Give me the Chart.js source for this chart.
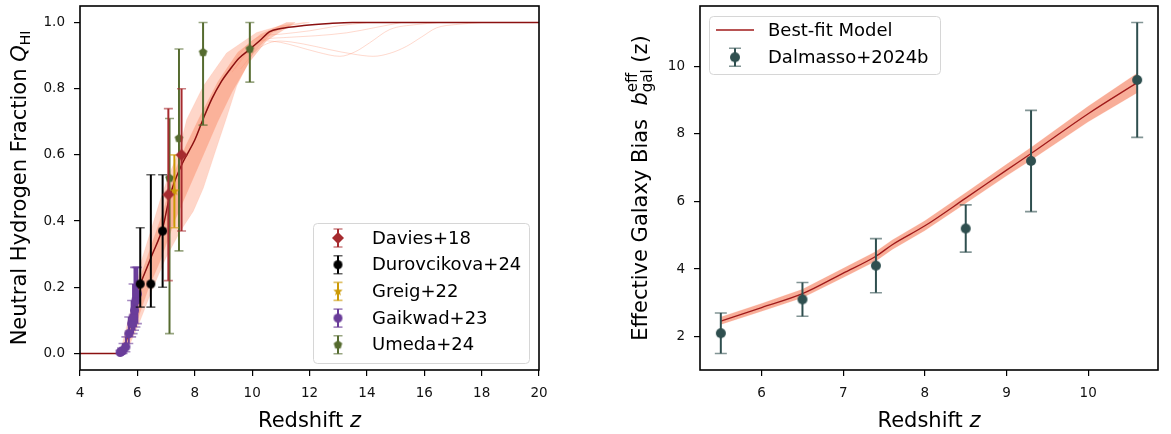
<!DOCTYPE html>
<html>
<head>
<meta charset="utf-8">
<script src="https://cdn.jsdelivr.net/npm/chart.js@4.4.1/dist/chart.umd.min.js"></script>
<style>
  body { margin: 0; background: #fff; }
  canvas { position: absolute; top: 0; }
</style>
</head>
<body>
<canvas id="qhiChart" width="560" height="434" style="left:0;width:560px;height:434px"></canvas>
<canvas id="biasChart" width="571" height="434" style="left:600px;width:571px;height:434px"></canvas>
<script>
// left panel: neutral fraction vs redshift
const qhiTicksX = [4, 6, 8, 10, 12, 14, 16, 18, 20];
const qhiTicksY = [0, 0.2, 0.4, 0.6, 0.8, 1.0];

const bestZ = [4, 5.3, 5.45, 5.6, 5.7, 5.8, 5.9, 6.0, 6.1, 6.5, 6.9, 7.1, 7.3, 7.6, 8.0, 8.3, 8.6, 8.9, 9.2, 9.55, 9.9, 10.3, 10.6, 11.0, 11.8, 12.7, 13.5, 20];
const bestQ = [0, 0, 0.01, 0.035, 0.065, 0.11, 0.155, 0.19, 0.21, 0.295, 0.385, 0.465, 0.52, 0.58, 0.645, 0.71, 0.77, 0.818, 0.855, 0.893, 0.918, 0.948, 0.972, 0.982, 0.991, 0.997, 1.0, 1.0];

// posterior envelope (early edge / late edge)
const bandEarlyZ = [5.25, 5.45, 5.62, 5.8, 5.97, 6.14, 6.5, 6.8, 7.1, 7.43, 7.72, 8.3, 9.11, 10.16, 10.97, 11.8];
const bandEarlyQ = [0, 0.02, 0.08, 0.14, 0.2, 0.28, 0.38, 0.465, 0.54, 0.606, 0.707, 0.808, 0.908, 0.97, 0.99, 1.0];
const bandLateZ = [5.5, 5.75, 6.1, 6.55, 7.0, 7.5, 7.95, 8.3, 8.7, 9.1, 9.46, 10.04, 10.7, 11.3, 12.0];
const bandLateQ = [0, 0.03, 0.1, 0.2, 0.29, 0.37, 0.43, 0.5, 0.606, 0.71, 0.808, 0.908, 0.97, 0.99, 1.0];

// denser core of the posterior draws
const coreEarlyZ = [5.35, 5.6, 5.85, 6.1, 6.5, 6.9, 7.3, 7.7, 8.2, 8.8, 9.5, 10.3, 11.2];
const coreEarlyQ = [0, 0.04, 0.13, 0.23, 0.33, 0.43, 0.55, 0.63, 0.72, 0.82, 0.91, 0.965, 1.0];
const coreLateZ = [5.45, 5.7, 6.0, 6.4, 6.8, 7.3, 7.8, 8.3, 8.8, 9.3, 9.9, 10.5, 11.5];
const coreLateQ = [0, 0.03, 0.1, 0.2, 0.28, 0.4, 0.5, 0.6, 0.7, 0.79, 0.88, 0.945, 1.0];

// a few visible posterior draws that wander below 1 at high z
const dipAZ = [9.4, 9.9, 10.39, 11.0, 11.55, 12.3, 13.06, 13.6, 14.1, 14.8, 15.73, 16.5];
const dipAQ = [0.86, 0.915, 0.945, 0.94, 0.928, 0.91, 0.898, 0.912, 0.939, 0.979, 0.994, 1.0];
const dipBZ = [9.6, 10.2, 10.97, 11.8, 12.71, 13.5, 14.22, 14.8, 15.38, 15.9, 16.43, 17.1, 18];
const dipBQ = [0.86, 0.92, 0.944, 0.935, 0.918, 0.905, 0.898, 0.907, 0.928, 0.956, 0.984, 0.994, 1.0];
const shallowAZ = [9.3, 9.8, 10.3, 11.2, 12.2, 13.3, 14.3, 15.2];
const shallowAQ = [0.85, 0.91, 0.945, 0.955, 0.96, 0.969, 0.985, 1.0];
const shallowBZ = [9.2, 9.7, 10.2, 11.0, 12.0, 13.0, 14.0];
const shallowBQ = [0.86, 0.92, 0.955, 0.965, 0.975, 0.99, 1.0];

const daviesZ = [7.08, 7.54];
const daviesQ = [0.48, 0.60];
const daviesUp = [0.26, 0.20];
const daviesDn = [0.26, 0.23];

const durovZ = [6.10, 6.47, 6.88];
const durovQ = [0.21, 0.21, 0.37];
const durovUp = [0.17, 0.33, 0.17];
const durovDn = [0.07, 0.07, 0.17];

const greigZ = [7.29];
const greigQ = [0.49];
const greigUp = [0.11];
const greigDn = [0.11];

const gaikZ = [5.4, 5.45, 5.5, 5.6, 5.7, 5.8, 5.85, 5.9, 5.95, 6.0];
const gaikQ = [0.003, 0.006, 0.01, 0.02, 0.06, 0.09, 0.11, 0.13, 0.16, 0.18];
const gaikUp = [0.006, 0.01, 0.02, 0.03, 0.05, 0.07, 0.1, 0.13, 0.1, 0.08];
const gaikDn = [0.003, 0.006, 0.01, 0.015, 0.03, 0.04, 0.05, 0.06, 0.08, 0.09];

const umedaZ = [7.12, 7.45, 8.29, 9.92];
const umedaQ = [0.53, 0.65, 0.91, 0.92];
const umedaUp = [0.18, 0.27, 0.09, 0.08];
const umedaDn = [0.47, 0.34, 0.22, 0.10];

// right panel: effective galaxy bias
const biasTicksX = [6, 7, 8, 9, 10];
const biasTicksY = [2, 4, 6, 8, 10];

const fitZ = [5.5, 6.0, 6.5, 7.0, 7.4, 7.6, 8.0, 8.5, 9.0, 9.3, 10.0, 10.6];
const fitB = [2.46, 2.86, 3.27, 3.88, 4.38, 4.72, 5.28, 6.1, 6.93, 7.42, 8.6, 9.52];
const fitLo = [2.36, 2.75, 3.15, 3.75, 4.24, 4.58, 5.14, 5.95, 6.76, 7.23, 8.36, 9.22];
const fitHi = [2.58, 2.98, 3.40, 4.02, 4.52, 4.86, 5.43, 6.26, 7.10, 7.60, 8.82, 9.80];

const dalZ = [5.5, 6.5, 7.4, 8.5, 9.3, 10.6];
const dalB = [2.1, 3.1, 4.1, 5.2, 7.2, 9.6];
const dalErr = [0.6, 0.5, 0.8, 0.7, 1.5, 1.7];

const FONT = "'DejaVu Sans', sans-serif";

function pts(xs, ys) {
  return xs.map((x, i) => ({ x: x, y: ys[i] }));
}

function makeMarker(shape, r, color) {
  const s = Math.ceil(r * 2 + 2);
  const c = document.createElement('canvas');
  c.width = s; c.height = s;
  const g = c.getContext('2d');
  g.fillStyle = color;
  g.translate(s / 2, s / 2);
  g.beginPath();
  if (shape === 'circle') {
    g.arc(0, 0, r, 0, Math.PI * 2);
  } else if (shape === 'diamond') {
    g.moveTo(0, -r); g.lineTo(r, 0); g.lineTo(0, r); g.lineTo(-r, 0);
  } else if (shape === 'pentagon') {
    for (let k = 0; k < 5; k++) {
      const a = -Math.PI / 2 + k * 2 * Math.PI / 5;
      g.lineTo(r * Math.cos(a), r * Math.sin(a));
    }
  } else if (shape === 'star') {
    for (let k = 0; k < 10; k++) {
      const a = -Math.PI / 2 + k * Math.PI / 5;
      const rr = k % 2 ? r * 0.42 : r;
      g.lineTo(rr * Math.cos(a), rr * Math.sin(a));
    }
  }
  g.closePath();
  g.fill();
  return c;
}

function drawErrBar(ctx, px, top, bot, color, lw, cap) {
  ctx.strokeStyle = color;
  ctx.lineWidth = lw;
  ctx.beginPath(); ctx.moveTo(px, top); ctx.lineTo(px, bot); ctx.stroke();
  ctx.globalAlpha = 0.6;
  ctx.lineWidth = 1.6;
  ctx.beginPath();
  ctx.moveTo(px - cap / 2, top); ctx.lineTo(px + cap / 2, top);
  ctx.moveTo(px - cap / 2, bot); ctx.lineTo(px + cap / 2, bot);
  ctx.stroke();
  ctx.globalAlpha = 1;
}

// error bars drawn just before each scatter dataset so markers sit on top
const errorBars = {
  id: 'errorBars',
  beforeDatasetDraw(chart, args) {
    const ds = chart.data.datasets[args.index];
    if (!ds.errUp) return;
    const ctx = chart.ctx, xs = chart.scales.x, ys = chart.scales.y;
    ctx.save();
    ds.data.forEach((p, i) => {
      const px = xs.getPixelForValue(p.x);
      drawErrBar(ctx, px, ys.getPixelForValue(p.y + ds.errUp[i]), ys.getPixelForValue(p.y - ds.errDn[i]),
        ds.errColor, ds.errWidth, ds.capSize);
    });
    ctx.restore();
  }
};

function richText(ctx, cx, cy, angle, runs) {
  ctx.save();
  ctx.translate(cx, cy);
  ctx.rotate(angle);
  ctx.textBaseline = 'alphabetic';
  ctx.fillStyle = '#000';
  const pos = [];
  let x = 0, prevStart = 0, prevW = 0;
  runs.forEach(r => {
    ctx.font = r.font;
    const w = ctx.measureText(r.text).width;
    let start;
    if (r.back) {
      start = prevStart;
      x = Math.max(prevStart + prevW, start + w);
      prevW = Math.max(prevW, w);
    } else {
      start = x;
      x = start + w;
      prevW = w;
    }
    prevStart = start;
    pos.push(start);
  });
  runs.forEach((r, i) => {
    ctx.font = r.font;
    ctx.fillText(r.text, pos[i] - x / 2, 7 + (r.dy || 0));
  });
  ctx.restore();
}

function framePlugin(titleX, titleY, yTitleX) {
  return {
    id: 'frameTitles',
    afterDraw(chart) {
      const ctx = chart.ctx, a = chart.chartArea;
      ctx.save();
      ctx.strokeStyle = '#000';
      ctx.lineWidth = 1.6;
      ctx.strokeRect(a.left, a.top, a.right - a.left, a.bottom - a.top);
      ctx.restore();
      richText(ctx, (a.left + a.right) / 2, 420, 0, titleX);
      richText(ctx, yTitleX, (a.top + a.bottom) / 2, -Math.PI / 2, titleY);
    }
  };
}

function legendPlugin(box, items) {
  return {
    id: 'boxLegend',
    afterDraw(chart) {
      const ctx = chart.ctx;
      ctx.save();
      ctx.fillStyle = 'rgba(255,255,255,0.8)';
      ctx.strokeStyle = '#d6d6d6';
      ctx.lineWidth = 1;
      ctx.beginPath();
      ctx.roundRect(box.x + 0.5, box.y + 0.5, box.w, box.h, 4);
      ctx.fill(); ctx.stroke();
      ctx.font = '18px ' + FONT;
      ctx.textBaseline = 'middle';
      items.forEach((it, i) => {
        const y = box.y + box.first + i * box.step;
        const mx = box.x + box.mx;
        if (it.line) {
          ctx.strokeStyle = it.color; ctx.lineWidth = 1.5;
          ctx.beginPath(); ctx.moveTo(mx - 19, y); ctx.lineTo(mx + 19, y); ctx.stroke();
        } else {
          drawErrBar(ctx, mx, y - 9, y + 9, it.color, 2, it.cap);
          ctx.drawImage(it.marker, mx - it.marker.width / 2, y - it.marker.height / 2);
        }
        ctx.fillStyle = '#000';
        ctx.fillText(it.label, box.x + box.tx, y + 1);
      });
      ctx.restore();
    }
  };
}

function baseAxis(min, max, ticks, fmt) {
  return {
    type: 'linear',
    min: min, max: max,
    afterBuildTicks: s => { s.ticks = ticks.map(v => ({ value: v })); },
    ticks: { font: { family: FONT, size: 13.5 }, color: '#111', padding: 9, callback: fmt, maxRotation: 0, autoSkip: false },
    grid: { drawOnChartArea: false, drawTicks: true, tickLength: 6, color: '#000', lineWidth: 1.2 },
    border: { display: false },
    title: { display: false }
  };
}

function xAxis(min, max, ticks, fmt) {
  const ax = baseAxis(min, max, ticks, fmt);
  ax.afterFit = s => { s.height = 64; s.paddingLeft = 0; s.paddingRight = 0; };
  return ax;
}

function yAxis(min, max, ticks, fmt, w) {
  const ax = baseAxis(min, max, ticks, fmt);
  ax.afterFit = s => { s.width = w; s.paddingTop = 0; s.paddingBottom = 0; };
  return ax;
}

const markDavies = makeMarker('diamond', 6, '#a62b2f');
const markDurov = makeMarker('circle', 4.5, '#000000');
const markGreig = makeMarker('star', 5, '#cc9a06');
const markGaik = makeMarker('circle', 4.5, '#6a3d9a');
const markUmeda = makeMarker('pentagon', 4.5, '#556b2f');
const markDal = makeMarker('circle', 5, '#2f4f4f');

function scatterSet(label, xs, ys, up, dn, color, marker, cap) {
  return {
    label: label, data: pts(xs, ys), pointStyle: marker, pointRadius: 5,
    errUp: up, errDn: dn, errColor: color, errWidth: 2, capSize: cap, order: 0
  };
}

function curveSet(xs, ys, color, width, order) {
  return {
    data: pts(xs, ys), showLine: true, pointRadius: 0, borderColor: color, borderWidth: width,
    cubicInterpolationMode: 'monotone', fill: false, order: order
  };
}

function bandSet(loZ, loQ, hiZ, hiQ, color, order) {
  const poly = pts(loZ, loQ).concat(pts(hiZ.slice().reverse(), hiQ.slice().reverse()));
  return { data: poly, showLine: true, pointRadius: 0, borderColor: 'rgba(252,146,114,0.15)', borderWidth: 1,
    backgroundColor: color, fill: 'shape', tension: 0, order: order };
}

new Chart(document.getElementById('qhiChart'), {
  type: 'scatter',
  data: {
    datasets: [
      scatterSet('Davies+18', daviesZ, daviesQ, daviesUp, daviesDn, '#a62b2f', markDavies, 9),
      scatterSet('Durovcikova+24', durovZ, durovQ, durovUp, durovDn, '#000000', markDurov, 9),
      scatterSet('Greig+22', greigZ, greigQ, greigUp, greigDn, '#cc9a06', markGreig, 9),
      scatterSet('Gaikwad+23', gaikZ, gaikQ, gaikUp, gaikDn, '#6a3d9a', markGaik, 9),
      scatterSet('Umeda+24', umedaZ, umedaQ, umedaUp, umedaDn, '#556b2f', markUmeda, 9),
      curveSet(bestZ, bestQ, '#8b1010', 1.5, 1),
      curveSet(dipAZ, dipAQ, 'rgba(252,146,114,0.35)', 1, 2),
      curveSet(dipBZ, dipBQ, 'rgba(252,146,114,0.35)', 1, 2),
      curveSet(shallowAZ, shallowAQ, 'rgba(252,146,114,0.35)', 1, 2),
      curveSet(shallowBZ, shallowBQ, 'rgba(252,146,114,0.35)', 1, 2),
      bandSet(coreEarlyZ, coreEarlyQ, coreLateZ, coreLateQ, 'rgba(248,120,80,0.38)', 3),
      bandSet(bandEarlyZ.concat([12.0]), bandEarlyQ.concat([1.0]), bandLateZ, bandLateQ, 'rgba(252,146,114,0.38)', 4)
    ]
  },
  options: {
    responsive: false, animation: false, events: [],
    layout: { padding: { top: 6, right: 21, left: 0, bottom: 0 } },
    plugins: { legend: { display: false }, tooltip: { enabled: false } },
    scales: {
      x: xAxis(4, 20, qhiTicksX, v => String(v)),
      y: yAxis(-0.05, 1.05, qhiTicksY, v => v.toFixed(1), 80)
    }
  },
  plugins: [
    errorBars,
    framePlugin(
      [{ text: 'Redshift ', font: '21px ' + FONT }, { text: 'z', font: 'oblique 21px ' + FONT }],
      [{ text: 'Neutral Hydrogen Fraction ', font: '21px ' + FONT },
       { text: 'Q', font: 'oblique 21px ' + FONT },
       { text: 'HI', font: '14px ' + FONT, dy: 4 }],
      19),
    legendPlugin({ x: 313, y: 223, w: 216, h: 140, first: 15, step: 26.7, mx: 25, tx: 59 }, [
      { label: 'Davies+18', color: '#a62b2f', marker: markDavies, cap: 9 },
      { label: 'Durovcikova+24', color: '#000000', marker: markDurov, cap: 9 },
      { label: 'Greig+22', color: '#cc9a06', marker: markGreig, cap: 9 },
      { label: 'Gaikwad+23', color: '#6a3d9a', marker: markGaik, cap: 9 },
      { label: 'Umeda+24', color: '#556b2f', marker: markUmeda, cap: 9 }
    ])
  ]
});

new Chart(document.getElementById('biasChart'), {
  type: 'scatter',
  data: {
    datasets: [
      scatterSet('Dalmasso+2024b', dalZ, dalB, dalErr, dalErr, '#2f4f4f', markDal, 12),
      curveSet(fitZ, fitB, '#a01a1a', 1.3, 1),
      bandSet(fitZ, fitHi, fitZ, fitLo, 'rgba(244,120,85,0.6)', 3)
    ]
  },
  options: {
    responsive: false, animation: false, events: [],
    layout: { padding: { top: 6, right: 13, left: 0, bottom: 0 } },
    plugins: { legend: { display: false }, tooltip: { enabled: false } },
    scales: {
      x: xAxis(5.245, 10.855, biasTicksX, v => String(v)),
      y: yAxis(1.01, 11.79, biasTicksY, v => String(v), 100)
    }
  },
  plugins: [
    errorBars,
    framePlugin(
      [{ text: 'Redshift ', font: '21px ' + FONT }, { text: 'z', font: 'oblique 21px ' + FONT }],
      [{ text: 'Effective Galaxy Bias  ', font: '21px ' + FONT },
       { text: 'b', font: 'oblique 21px ' + FONT },
       { text: 'gal', font: '15px ' + FONT, dy: 5 },
       { text: 'eff', font: '15px ' + FONT, dy: -10, back: true },
       { text: ' (z)', font: '21px ' + FONT }],
      40),
    legendPlugin({ x: 109, y: 16, w: 231, h: 58, first: 14, step: 27.3, mx: 26, tx: 59 }, [
      { label: 'Best-fit Model', color: '#a01a1a', line: true },
      { label: 'Dalmasso+2024b', color: '#2f4f4f', marker: markDal, cap: 12 }
    ])
  ]
});
</script>
</body>
</html>
